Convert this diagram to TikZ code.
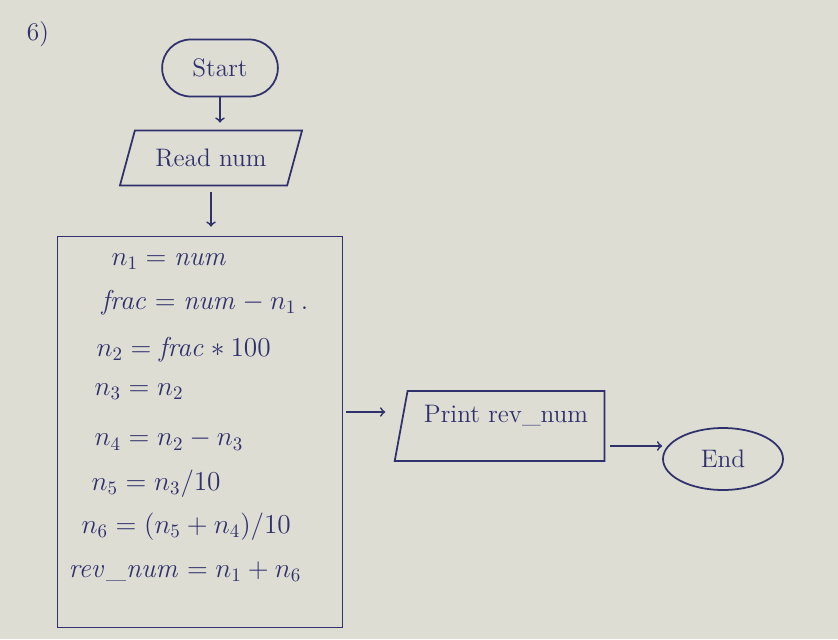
\documentclass[tikz,border=0pt]{standalone}
\usepackage{amsmath}
\usepackage{amssymb}
\usetikzlibrary{positioning,shapes.geometric,shapes.misc}
\definecolor{inkColor}{RGB}{48,48,108}
\definecolor{paperColor}{RGB}{221,221,212}
\tikzstyle{chart} = [x = 0.02cm, y = -0.02cm]
\tikzstyle{inkText} = [text=inkColor, font=\Large]
\tikzstyle{terminalStyle} = [draw=inkColor, line width=1pt, inkText, rounded rectangle]
\tikzstyle{endStyle} = [draw=inkColor, line width=1pt, inkText, ellipse]
\tikzstyle{inputStyle} = [draw=inkColor, line width=1pt, inkText, trapezium, trapezium stretches=true, trapezium left angle=68, trapezium right angle=112]
\tikzstyle{outputStyle} = [draw=inkColor, line width=1pt, inkText, trapezium, trapezium stretches=true, trapezium left angle=78, trapezium right angle=90]
\tikzstyle{processStyle} = [draw=inkColor, line width=1pt, minimum width=5.7cm, minimum height=7.82cm]
\tikzstyle{flowArrow} = [->, draw=inkColor, line width=1pt]

\begin{document}
\begin{tikzpicture}[chart]
  \fill [paperColor] (0,0) rectangle (838,639);
  \useasboundingbox (0,0) rectangle (838,639);

  \node [inkText] (number) at (38,34) {6)};
  \node [terminalStyle, minimum width=2.55cm, minimum height=1.14cm] (start) at (220,68) {Start};
  \node [inputStyle, minimum width=3.66cm, minimum height=1.1cm] (read) at (211,158) {Read num};
  \node [processStyle] (calc) at (200,432) {};

  % the steps inside the box
  \foreach \xx/\yy/\txt [count=\i] in {
      105/262/{$n_1 = \mathit{num}$},
      95/303/{$\mathit{frac} = \mathit{num} - n_1\,.$},
      90/350/{$n_2 = \mathit{frac} * 100$},
      88/392/{$n_3 = n_2$},
      88/440/{$n_4 = n_2 - n_3$},
      85/484/{$n_5 = n_3 / 10$},
      75/527/{$n_6 = (n_5 + n_4) / 10$},
      62/572/{$\mathit{rev\_num} = n_1 + n_6$}} {
    \node [inkText, anchor=west, scale=1.08] (step\i) at (\xx,\yy) {\txt};
  }

  \node [outputStyle, minimum width=4.2cm, minimum height=1.4cm, text depth=0.5cm] (print) at (506,426) {Print rev\_num};
  \node [endStyle, minimum width=2.4cm, minimum height=1.24cm] (end) at (723,459) {End};

  \draw [flowArrow, shorten >=0.14cm] (start.south) -- (start.south |- read.north);
  \draw [flowArrow, shorten <=0.12cm, shorten >=0.18cm] (read.south) -- (read.south |- calc.north);
  \draw [flowArrow, shorten <=0.06cm, shorten >=0.3cm] ([yshift=0.4cm]calc.east) -- ([yshift=0.4cm]calc.east -| print.west);
  \draw [flowArrow, shorten <=0.1cm] ([yshift=-0.4cm]print.east) -- ([yshift=-0.4cm]print.east -| end.west);
\end{tikzpicture}
\end{document}
